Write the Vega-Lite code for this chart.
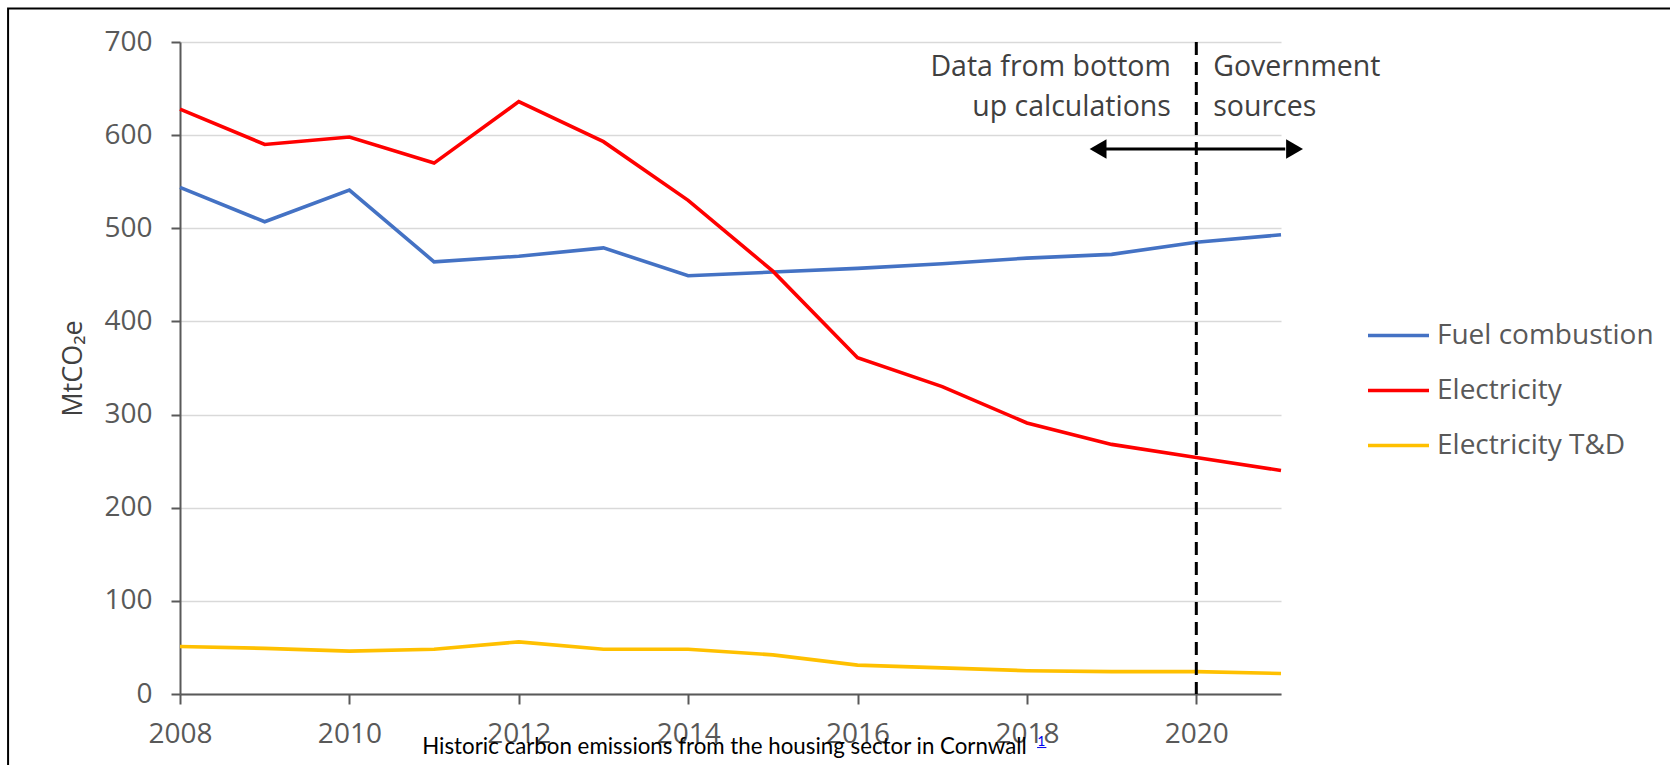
{
  "$schema": "https://vega.github.io/schema/vega-lite/v6.json",
  "width": 1101,
  "height": 652,
  "autosize": "none",
  "padding": {"left": 180, "top": 42, "right": 389, "bottom": 71},
  "background": "white",
  "config": {
    "view": {"stroke": null},
    "font": "Open Sans"
  },
  "datasets": {
    "emissions": [
      {"year": 2008, "series": "Fuel combustion", "value": 544},
      {"year": 2009, "series": "Fuel combustion", "value": 507},
      {"year": 2010, "series": "Fuel combustion", "value": 541},
      {"year": 2011, "series": "Fuel combustion", "value": 464},
      {"year": 2012, "series": "Fuel combustion", "value": 470},
      {"year": 2013, "series": "Fuel combustion", "value": 479},
      {"year": 2014, "series": "Fuel combustion", "value": 449},
      {"year": 2015, "series": "Fuel combustion", "value": 453},
      {"year": 2016, "series": "Fuel combustion", "value": 457},
      {"year": 2017, "series": "Fuel combustion", "value": 462},
      {"year": 2018, "series": "Fuel combustion", "value": 468},
      {"year": 2019, "series": "Fuel combustion", "value": 472},
      {"year": 2020, "series": "Fuel combustion", "value": 485},
      {"year": 2021, "series": "Fuel combustion", "value": 493},
      {"year": 2008, "series": "Electricity", "value": 628},
      {"year": 2009, "series": "Electricity", "value": 590},
      {"year": 2010, "series": "Electricity", "value": 598},
      {"year": 2011, "series": "Electricity", "value": 570},
      {"year": 2012, "series": "Electricity", "value": 636},
      {"year": 2013, "series": "Electricity", "value": 593},
      {"year": 2014, "series": "Electricity", "value": 530},
      {"year": 2015, "series": "Electricity", "value": 454},
      {"year": 2016, "series": "Electricity", "value": 361},
      {"year": 2017, "series": "Electricity", "value": 330},
      {"year": 2018, "series": "Electricity", "value": 291},
      {"year": 2019, "series": "Electricity", "value": 268},
      {"year": 2020, "series": "Electricity", "value": 254},
      {"year": 2021, "series": "Electricity", "value": 240},
      {"year": 2008, "series": "Electricity T&D", "value": 51},
      {"year": 2009, "series": "Electricity T&D", "value": 49},
      {"year": 2010, "series": "Electricity T&D", "value": 46},
      {"year": 2011, "series": "Electricity T&D", "value": 48},
      {"year": 2012, "series": "Electricity T&D", "value": 56},
      {"year": 2013, "series": "Electricity T&D", "value": 48},
      {"year": 2014, "series": "Electricity T&D", "value": 48},
      {"year": 2015, "series": "Electricity T&D", "value": 42},
      {"year": 2016, "series": "Electricity T&D", "value": 31},
      {"year": 2017, "series": "Electricity T&D", "value": 28},
      {"year": 2018, "series": "Electricity T&D", "value": 25},
      {"year": 2019, "series": "Electricity T&D", "value": 24},
      {"year": 2020, "series": "Electricity T&D", "value": 24},
      {"year": 2021, "series": "Electricity T&D", "value": 22}
    ]
  },
  "layer": [
    {
      "data": {"values": [{"x1": 2005.97, "x2": 2030, "y1": 736, "y2": -120}]},
      "mark": {"type": "rect", "fill": null, "stroke": "#000000", "strokeWidth": 2, "clip": false},
      "encoding": {
        "x": {"field": "x1", "type": "quantitative"},
        "x2": {"field": "x2"},
        "y": {"field": "y1", "type": "quantitative"},
        "y2": {"field": "y2"}
      }
    },
    {
      "data": {"name": "emissions"},
      "mark": {"type": "line", "strokeWidth": 3.6},
      "encoding": {
        "x": {
          "field": "year", "type": "quantitative",
          "scale": {"domain": [2008, 2021], "nice": false, "zero": false},
          "axis": {
            "title": null, "values": [2008, 2010, 2012, 2014, 2016, 2018, 2020],
            "format": "d", "grid": false, "labelFlush": false,
            "domainColor": "#595959", "domainWidth": 2,
            "tickColor": "#595959", "tickWidth": 2, "tickSize": 10,
            "labelFont": "Open Sans", "labelFontSize": 28, "labelColor": "#595959",
            "labelPadding": 16
          }
        },
        "y": {
          "field": "value", "type": "quantitative",
          "scale": {"domain": [0, 700], "nice": false},
          "axis": {
            "title": "MtCO₂e", "values": [0, 100, 200, 300, 400, 500, 600, 700],
            "grid": true, "gridColor": "#d9d9d9", "gridWidth": 1.5,
            "domainColor": "#595959", "domainWidth": 2,
            "tickColor": "#595959", "tickWidth": 2, "tickSize": 9,
            "labelFont": "Open Sans", "labelFontSize": 28, "labelColor": "#595959",
            "labelPadding": 19,
            "titleFont": "Open Sans", "titleFontSize": 27, "titleFontWeight": "normal",
            "titleColor": "#404040", "titlePadding": 16
          }
        },
        "color": {
          "field": "series", "type": "nominal",
          "scale": {
            "domain": ["Fuel combustion", "Electricity", "Electricity T&D"],
            "range": ["#4472C4", "#FF0000", "#FFC000"]
          },
          "legend": {
            "title": null, "orient": "none", "legendX": 1186, "legendY": 261,
            "symbolType": "stroke", "symbolSize": 3721, "symbolStrokeWidth": 3.6,
            "labelFont": "Open Sans", "labelFontSize": 28, "labelColor": "#595959",
            "labelOffset": 6, "labelLimit": 0, "rowPadding": 8
          }
        }
      }
    },
    {
      "data": {"values": [{"year": 2020, "top": 700, "bottom": 0}]},
      "mark": {"type": "rule", "color": "#000000", "strokeWidth": 3, "strokeDash": [13, 7]},
      "encoding": {
        "x": {"field": "year", "type": "quantitative"},
        "y": {"field": "top", "type": "quantitative"},
        "y2": {"field": "bottom"}
      }
    },
    {
      "data": {"values": [{"x1": 2018.9, "x2": 2021.05, "y": 585}]},
      "mark": {"type": "rule", "color": "#000000", "strokeWidth": 3, "clip": false},
      "encoding": {
        "x": {"field": "x1", "type": "quantitative"},
        "x2": {"field": "x2"},
        "y": {"field": "y", "type": "quantitative"}
      }
    },
    {
      "data": {"values": [
        {"x": 2018.84, "y": 585, "dir": "triangle-left"},
        {"x": 2021.16, "y": 585, "dir": "triangle-right"}
      ]},
      "mark": {"type": "point", "filled": true, "color": "#000000", "opacity": 1, "size": 380, "clip": false},
      "encoding": {
        "x": {"field": "x", "type": "quantitative"},
        "y": {"field": "y", "type": "quantitative"},
        "shape": {"field": "dir", "type": "nominal", "scale": null, "legend": null}
      }
    },
    {
      "data": {"values": [
        {"x": 2019.7, "y": 673, "label": "Data from bottom"},
        {"x": 2019.7, "y": 630, "label": "up calculations"}
      ]},
      "mark": {"type": "text", "align": "right", "baseline": "middle", "font": "Open Sans", "fontSize": 28.5, "color": "#404040"},
      "encoding": {
        "x": {"field": "x", "type": "quantitative"},
        "y": {"field": "y", "type": "quantitative"},
        "text": {"field": "label"}
      }
    },
    {
      "data": {"values": [
        {"x": 2020.2, "y": 673, "label": "Government"},
        {"x": 2020.2, "y": 630, "label": "sources"}
      ]},
      "mark": {"type": "text", "align": "left", "baseline": "middle", "font": "Open Sans", "fontSize": 28.5, "color": "#404040", "clip": false},
      "encoding": {
        "x": {"field": "x", "type": "quantitative"},
        "y": {"field": "y", "type": "quantitative"},
        "text": {"field": "label"}
      }
    },
    {
      "data": {"values": [{"x": 2010.86, "y": -64, "label": "Historic carbon emissions from the housing sector in Cornwall"}]},
      "mark": {"type": "text", "align": "left", "baseline": "alphabetic", "font": "Lato", "fontSize": 22.3, "color": "#000000", "clip": false},
      "encoding": {
        "x": {"field": "x", "type": "quantitative"},
        "y": {"field": "y", "type": "quantitative"},
        "text": {"field": "label"}
      }
    },
    {
      "data": {"values": [{"x": 2018.17, "y": -51, "label": "1"}]},
      "mark": {"type": "text", "align": "center", "baseline": "middle", "font": "Lato", "fontSize": 14, "color": "#0000EE", "clip": false},
      "encoding": {
        "x": {"field": "x", "type": "quantitative"},
        "y": {"field": "y", "type": "quantitative"},
        "text": {"field": "label"}
      }
    },
    {
      "data": {"values": [{"x1": 2018.12, "x2": 2018.23, "y": -57.5}]},
      "mark": {"type": "rule", "color": "#0000EE", "strokeWidth": 1, "clip": false},
      "encoding": {
        "x": {"field": "x1", "type": "quantitative"},
        "x2": {"field": "x2"},
        "y": {"field": "y", "type": "quantitative"}
      }
    }
  ]
}
